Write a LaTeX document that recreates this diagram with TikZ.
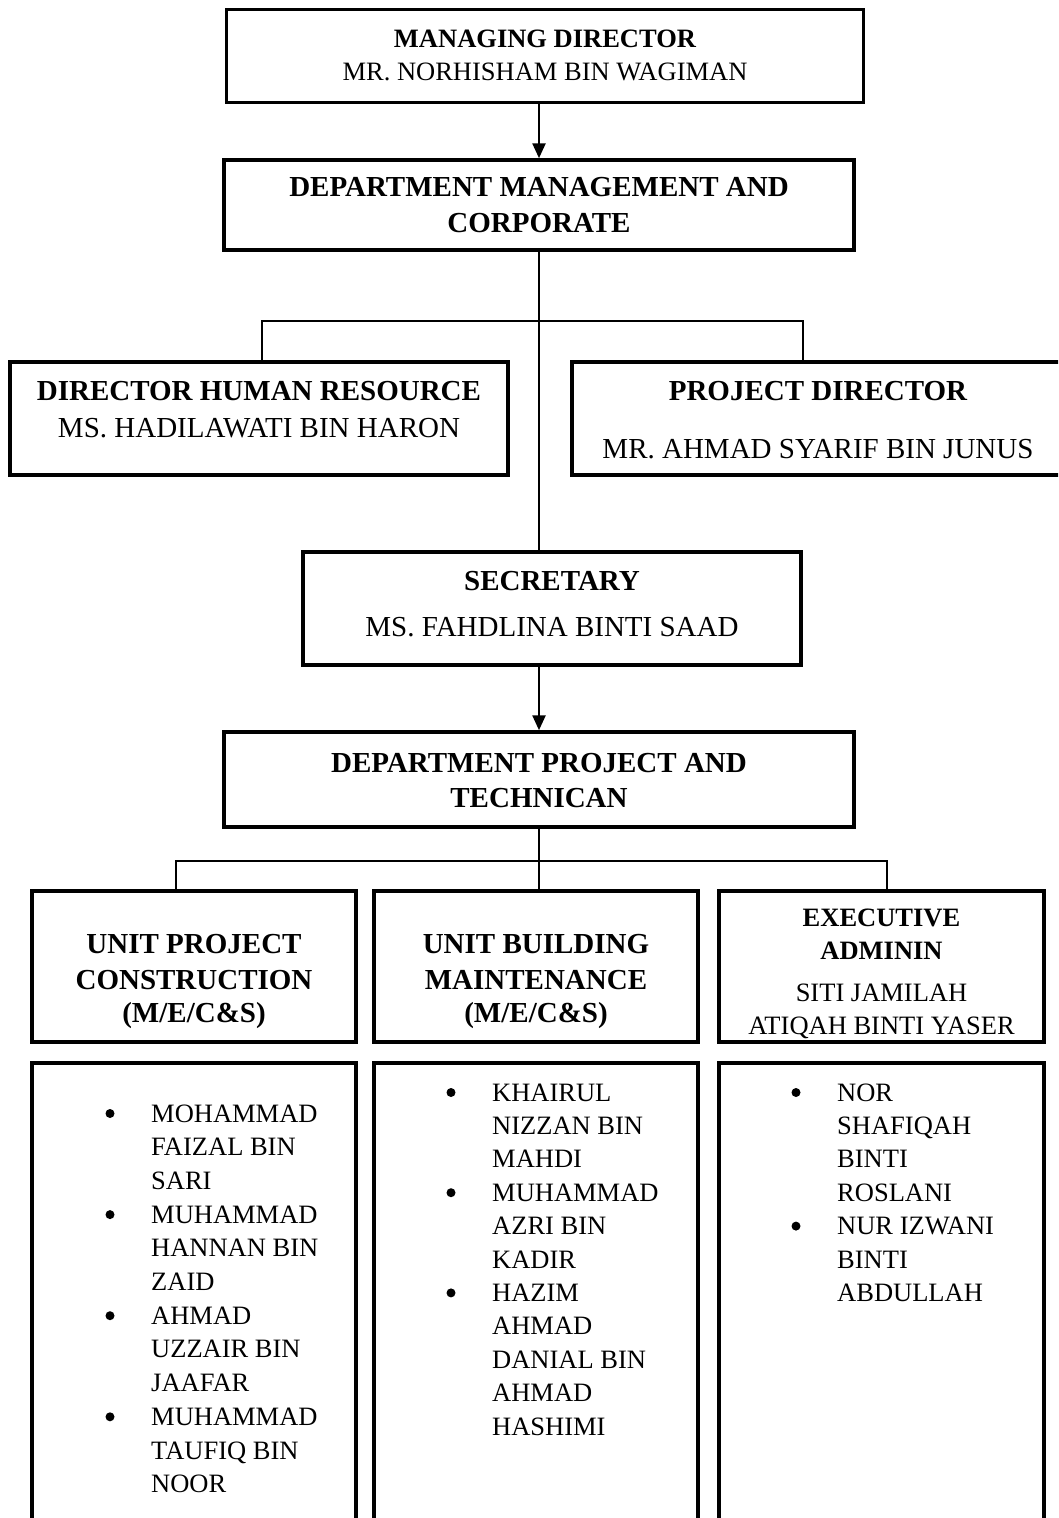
\documentclass[tikz,border=0pt]{standalone}
\usepackage{fontspec}
\setmainfont{Liberation Serif}
\usetikzlibrary{arrows.meta}
\tikzset{
  box/.style={draw=black, line width=3.5pt, rectangle, inner sep=0pt},
  thin/.style={draw=black, line width=1.3pt},
  arr/.style={draw=black, line width=2.5pt, -{Triangle[width=13pt,length=15pt]}},
  big/.style={font=\fontsize{29}{34}\selectfont\bfseries, inner sep=0pt, anchor=base},
  bigr/.style={font=\fontsize{29}{34}\selectfont, inner sep=0pt, anchor=base},
  mid/.style={font=\fontsize{26.5}{32}\selectfont\bfseries, inner sep=0pt, anchor=base},
  midr/.style={font=\fontsize{26.5}{32}\selectfont, inner sep=0pt, anchor=base},
  lst/.style={font=\fontsize{26.5}{32}\selectfont, inner sep=0pt, anchor=base west},
  bul/.style={circle, fill=black, inner sep=0pt, minimum size=9pt},
}
\begin{document}
\begin{tikzpicture}[x=1pt,y=-1pt]
\useasboundingbox (0,0) rectangle (1058,1518);
\clip (0,0) rectangle (1058,1518);
\fill[white] (0,0) rectangle (1058,1518);
% boxes
\node[box, minimum width=637pt, minimum height=93pt] (md) at (545,56) {};
\node[box, minimum width=630pt, minimum height=90pt] (dmc) at (539,205) {};
\node[box, minimum width=498pt, minimum height=113pt] (dhr) at (259,418.5) {};
\node[box, minimum width=492pt, minimum height=113pt] (pd) at (818,418.5) {};
\node[box, minimum width=498pt, minimum height=113pt] (sec) at (552,608.5) {};
\node[box, minimum width=630pt, minimum height=95pt] (dpt) at (539,779.5) {};
\node[box, minimum width=324pt, minimum height=151pt] (u1) at (194,966.5) {};
\node[box, minimum width=324pt, minimum height=151pt] (u2) at (536,966.5) {};
\node[box, minimum width=325pt, minimum height=151pt] (u3) at (881.5,966.5) {};
\node[box, minimum width=324pt, minimum height=475pt] (l1) at (194,1300.5) {};
\node[box, minimum width=324pt, minimum height=475pt] (l2) at (536,1300.5) {};
\node[box, minimum width=325pt, minimum height=475pt] (l3) at (881.5,1300.5) {};
% texts
\node[mid] (tmd1) at (545,47) {MANAGING DIRECTOR};
\node[midr] (tmd2) at (545,80) {MR. NORHISHAM BIN WAGIMAN};
\node[big] (tdmc1) at (539,196) {DEPARTMENT MANAGEMENT AND};
\node[big] (tdmc2) at (539,232) {CORPORATE};
\node[big] (tdhr1) at (259,400) {DIRECTOR HUMAN RESOURCE};
\node[bigr] (tdhr2) at (259,437) {MS. HADILAWATI BIN HARON};
\node[big] (tpd1) at (818,400) {PROJECT DIRECTOR};
\node[bigr] (tpd2) at (818,458) {MR. AHMAD SYARIF BIN JUNUS};
\node[big] (tsec1) at (552,590) {SECRETARY};
\node[bigr] (tsec2) at (552,636) {MS. FAHDLINA BINTI SAAD};
\node[big] (tdpt1) at (539,772) {DEPARTMENT PROJECT AND};
\node[big] (tdpt2) at (539,807) {TECHNICAN};
\node[big] (tu11) at (194,953) {UNIT PROJECT};
\node[big] (tu12) at (194,989) {CONSTRUCTION};
\node[big] (tu13) at (194,1022) {(M/E/C\&S)};
\node[big] (tu21) at (536,953) {UNIT BUILDING};
\node[big] (tu22) at (536,989) {MAINTENANCE};
\node[big] (tu23) at (536,1022) {(M/E/C\&S)};
\node[mid] (tu31) at (881.5,926) {EXECUTIVE};
\node[mid] (tu32) at (881.5,959) {ADMININ};
\node[midr] (tu33) at (881.5,1001) {SITI JAMILAH};
\node[midr] (tu34) at (881.5,1034) {ATIQAH BINTI YASER};
% lists
\foreach \t [count=\i from 0] in {MOHAMMAD, FAIZAL BIN, SARI, MUHAMMAD, HANNAN BIN, ZAID, AHMAD, UZZAIR BIN, JAAFAR, MUHAMMAD, TAUFIQ BIN, NOOR}
  \node[lst] (la\i) at (151,1122+33.7*\i) {\t};
\foreach \i in {0,3,6,9}
  \node[bul] (ba\i) at (110,1113.5+33.7*\i) {};
\foreach \t [count=\i from 0] in {KHAIRUL, NIZZAN BIN, MAHDI, MUHAMMAD, AZRI BIN, KADIR, HAZIM, AHMAD, DANIAL BIN, AHMAD, HASHIMI}
  \node[lst] (lb\i) at (492,1101+33.4*\i) {\t};
\foreach \i in {0,3,6}
  \node[bul] (bb\i) at (451,1092.5+33.4*\i) {};
\foreach \t [count=\i from 0] in {NOR, SHAFIQAH, BINTI, ROSLANI, NUR IZWANI, BINTI, ABDULLAH}
  \node[lst] (lc\i) at (837,1101+33.4*\i) {\t};
\foreach \i in {0,4}
  \node[bul] (bc\i) at (796,1092.5+33.4*\i) {};
% connectors
\draw[arr] (dmc.north |- md.south) -- (dmc.north);
\coordinate (br1) at (538,321);
\draw[thin] (dmc.south) -- (dmc.south |- sec.north);
\draw[thin] ([xshift=3pt]dhr.north) |- (br1) -| ([xshift=-15pt]pd.north);
\draw[arr] (dpt.north |- sec.south) -- (dpt.north);
\coordinate (br2) at (538,861);
\draw[thin] (dpt.south) -- (dpt.south |- u2.north);
\draw[thin] ([xshift=-18pt]u1.north) |- (br2) -| ([xshift=5.5pt]u3.north);
\end{tikzpicture}
\end{document}
